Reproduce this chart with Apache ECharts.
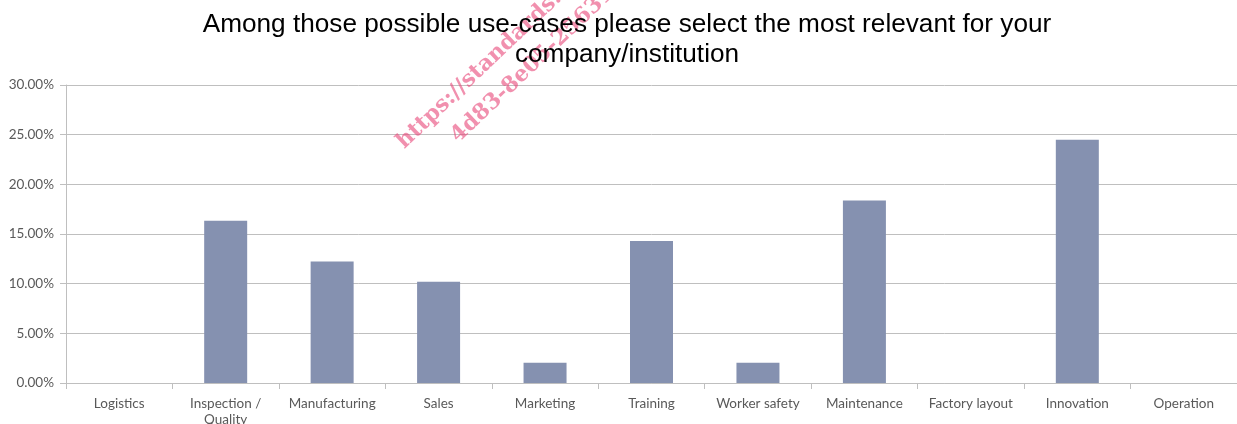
<!DOCTYPE html>
<html>
<head>
<meta charset="utf-8">
<script src="https://cdn.jsdelivr.net/npm/echarts@6/dist/echarts.min.js"></script>
<style>
html,body{margin:0;padding:0;background:#fff;}
#c{width:1237px;height:424px;}
</style>
</head>
<body>
<div id="c"></div>
<script>
const titleText = 'Among those possible use-cases please select the most relevant for your\ncompany/institution';
const categories = ['Logistics', 'Inspection /\nQuality', 'Manufacturing', 'Sales', 'Marketing', 'Training', 'Worker safety', 'Maintenance', 'Factory layout', 'Innovation', 'Operation'];
const values = [0, 16.33, 12.24, 10.20, 2.04, 14.29, 2.04, 18.37, 0, 24.49, 0];
const watermark1 = 'https://standards.iteh.ai/catalog';
const watermark2 = '4d83-8e05-25631e';

const chart = echarts.init(document.getElementById('c'), null, {renderer: 'canvas'});
const labelFont = 'Lato, "Open Sans", sans-serif';
chart.setOption({
  animation: false,
  backgroundColor: '#ffffff',
  title: {
    text: titleText,
    left: 622,
    top: 5,
    textAlign: 'center',
    textStyle: {
      fontFamily: '"Liberation Sans", Arial, sans-serif',
      fontSize: 26.2,
      fontWeight: 'normal',
      color: '#000000',
      lineHeight: 30
    },
    z: 10
  },
  graphic: [
    {
      type: 'text',
      x: 408, y: 153,
      rotation: 0.76,
      z: 1,
      style: {
        text: watermark1,
        font: 'bold 22px "DejaVu Serif", "Liberation Serif", serif',
        fill: 'rgba(232, 70, 120, 0.6)',
        textVerticalAlign: 'bottom'
      }
    },
    {
      type: 'text',
      x: 462, y: 147,
      rotation: 0.76,
      z: 1,
      style: {
        text: watermark2,
        font: 'bold 22px "DejaVu Serif", "Liberation Serif", serif',
        fill: 'rgba(232, 70, 120, 0.6)',
        textVerticalAlign: 'bottom'
      }
    }
  ],
  grid: {left: 66, right: 0, top: 85, bottom: 41, containLabel: false, outerBoundsMode: 'none'},
  xAxis: {
    type: 'category',
    data: categories,
    axisLine: {show: true, lineStyle: {color: '#bfbfbf', width: 1}},
    axisTick: {show: true, length: 6, lineStyle: {color: '#bfbfbf'}},
    axisLabel: {
      interval: 0,
      margin: 13,
      color: '#595959',
      fontFamily: labelFont,
      fontSize: 13.5,
      lineHeight: 16
    }
  },
  yAxis: {
    type: 'value',
    min: 0, max: 30, interval: 5,
    axisLine: {show: true, lineStyle: {color: '#bfbfbf', width: 1}},
    axisTick: {show: true, length: 6, lineStyle: {color: '#bfbfbf'}},
    splitLine: {show: true, lineStyle: {color: '#bfbfbf', width: 1}},
    axisLabel: {
      margin: 12,
      color: '#595959',
      fontFamily: labelFont,
      fontSize: 13.5,
      formatter: v => v.toFixed(2) + '%'
    }
  },
  series: [{
    type: 'bar',
    data: values,
    barWidth: 43,
    itemStyle: {color: '#8591b0', borderWidth: 0},
    z: 2
  }]
});
</script>
</body>
</html>
